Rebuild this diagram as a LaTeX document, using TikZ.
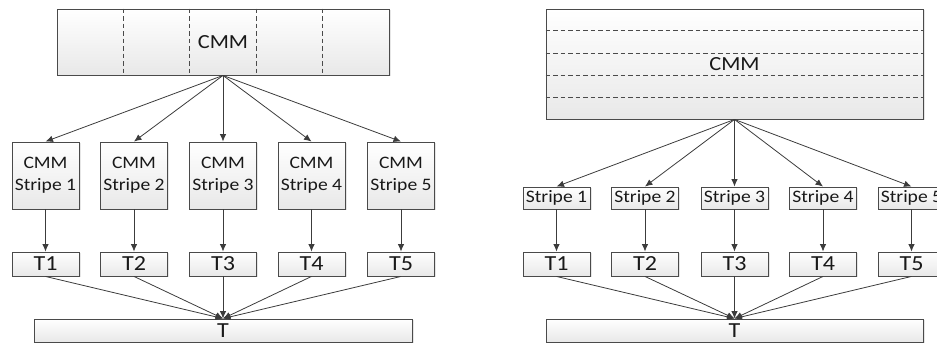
\documentclass[tikz,border=0pt]{standalone}
\usepackage{fontspec}
\setmainfont{Carlito}[FakeStretch=1.12]
\usetikzlibrary{arrows.meta,calc,shadows}
\definecolor{edge}{HTML}{4A4A4A}
\definecolor{arr}{HTML}{3C3C3C}
\tikzset{
  box/.style={draw=edge, line width=0.9pt, top color=white, bottom color=black!9,
    inner sep=0pt, anchor=center, text=black!90,
    drop shadow={opacity=0.2, shadow xshift=1.5pt, shadow yshift=-1.5pt}},
  conn/.style={draw=arr, line width=0.8pt, -{Latex[length=7.5pt,width=6.5pt]}},
  divider/.style={draw=edge, line width=0.8pt, dash pattern=on 4.5pt off 3pt},
  big/.style={font=\fontsize{20}{22}\selectfont},
  tlab/.style={font=\fontsize{21.5}{22}\selectfont},
}
\begin{document}
\begin{tikzpicture}[x=1pt,y=-1pt]
\useasboundingbox (0,0) rectangle (937,344);
% ---------- left panel ----------
\node[box, minimum width=332pt, minimum height=66pt] (cmmL) at (223,42) {};
\foreach \f in {0.2,0.4,0.6,0.8}
  \draw[divider] ($(cmmL.north west)!\f!(cmmL.north east)$) -- ($(cmmL.south west)!\f!(cmmL.south east)$);
\node[big, text=black!90] at (cmmL) {CMM};
\foreach \i/\x in {1/45.5,2/134,3/223,4/311.5,5/401} {
  \node[box, minimum width=67pt, minimum height=67pt, align=center, font=\fontsize{17.5}{22}\selectfont] (sL\i) at (\x,175.5) {CMM\\Stripe \i};
  \node[box, tlab, minimum width=67pt, minimum height=24pt] (tL\i) at (\x,264) {T\i};
}
\node[box, tlab, minimum width=378pt, minimum height=23pt] (TL) at (223,330.5) {T};
\foreach \i in {1,...,5} {
  \draw[conn] (cmmL.south) -- (sL\i.north);
  \draw[conn] (sL\i.south) -- (tL\i.north);
  \draw[conn] (tL\i.south) -- (TL.north);
}
% ---------- right panel ----------
\node[box, minimum width=377pt, minimum height=110pt] (cmmR) at (734.5,64) {};
\foreach \f in {0.2,0.4,0.6,0.8}
  \draw[divider] ($(cmmR.north west)!\f!(cmmR.south west)$) -- ($(cmmR.north east)!\f!(cmmR.south east)$);
\node[big, text=black!90] at (cmmR) {CMM};
\foreach \i/\x in {1/556.5,2/645,3/734.5,4/823,5/911.5} {
  \node[box, minimum width=67pt, minimum height=22pt, font=\fontsize{17.5}{19}\selectfont] (sR\i) at (\x,198) {Stripe \i};
  \node[box, tlab, minimum width=67pt, minimum height=24pt] (tR\i) at (\x,264) {T\i};
}
\node[box, tlab, minimum width=377pt, minimum height=23pt] (TR) at (734.5,330.5) {T};
\foreach \i in {1,...,5} {
  \draw[conn] (cmmR.south) -- (sR\i.north);
  \draw[conn] (sR\i.south) -- (tR\i.north);
  \draw[conn] (tR\i.south) -- (TR.north);
}
\end{tikzpicture}
\end{document}
